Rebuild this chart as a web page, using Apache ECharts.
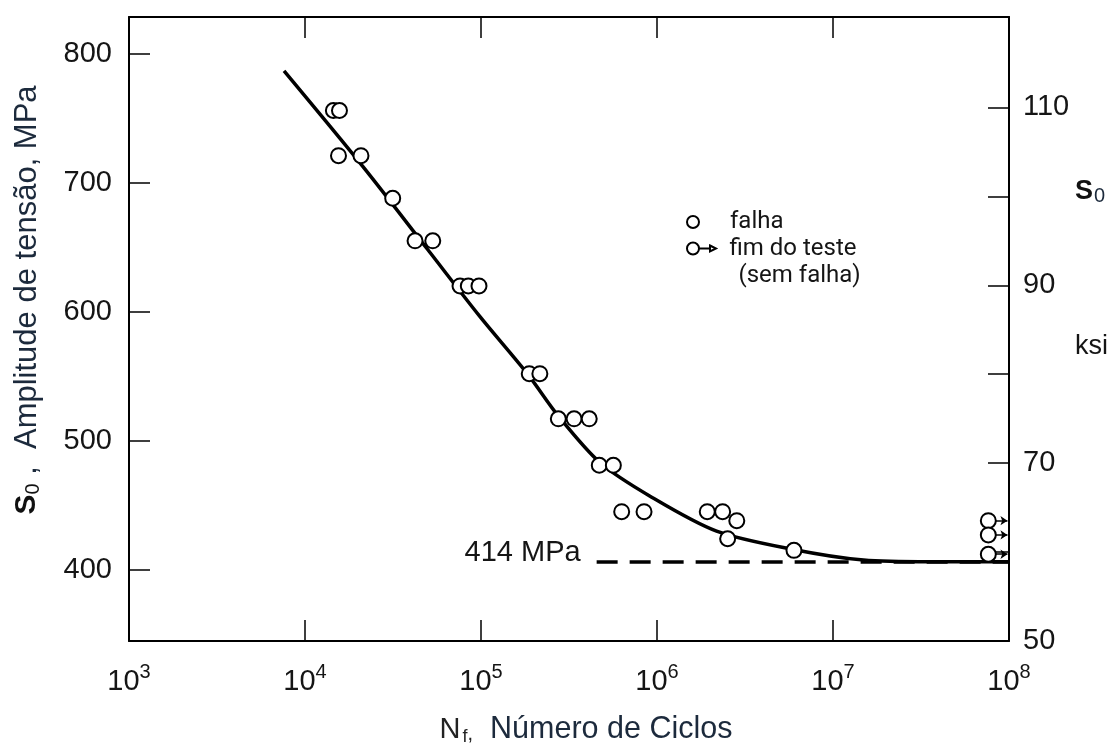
<!DOCTYPE html>
<html><head><meta charset="utf-8">
<script src="https://cdn.jsdelivr.net/npm/echarts@6/dist/echarts.min.js"></script>
<style>html,body{margin:0;padding:0;background:#fff}#c{width:1115px;height:751px}</style>
</head><body><div id="c"></div>
<script>
const MPA_PER_KSI = 6.894757;
const leftTicksMPa = [400, 500, 600, 700, 800];
const rightTicksKsi = [50, 60, 70, 80, 90, 100, 110];
const rightLabelsKsi = [50, 70, 90, 110];
const xMinCycles = 1e3;
const xMaxCycles = 1e8;
const yMinKsi = 50;
const yMaxMPa = 828.5;

const failCycles = [14500, 15700, 15500, 20800, 31500, 42200, 53200, 76000, 84700, 97400, 188000, 216000, 275000, 338000, 412000, 470000, 565000, 630000, 844000, 1930000, 2360000, 2840000, 2520000, 6000000];
const failStress = [756, 756, 721, 721, 688, 655, 655, 620, 620, 620, 552, 552, 517, 517, 517, 481, 481, 445, 445, 445, 445, 438, 424, 415];

const runoutCycles = [76300000, 76300000, 76300000];
const runoutStress = [438, 427, 412];
const runoutArrowEnd = 98000000;

const curveCycles = [7600, 21400, 49400, 98700, 185000, 274000, 474000, 913000, 2180000, 5950000, 14900000, 35600000, 100000000];
const curveStress = [786.7, 712.3, 648.8, 596.2, 551.3, 519.5, 483.1, 457, 429.9, 415.7, 407.5, 406.2, 406.2];

const enduranceCycles = [454000, 100000000];
const enduranceStress = [406, 406];
const enduranceLabel = '414 MPa';

const FONT = '"Liberation Sans", Arial, sans-serif';
const TXT = '#151515';

const chart = echarts.init(document.getElementById('c'), null, {renderer: 'canvas'});

const zip = (a, b) => a.map((v, i) => [v, b[i]]);

const axisLineStyle = {show: true, onZero: false, lineStyle: {color: '#000', width: 2}};
const tickStyle = {color: '#000', width: 1.5};

chart.setOption({
  animation: false,
  backgroundColor: '#fff',
  grid: {left: 129, right: 106, top: 17, bottom: 109, containLabel: false},
  legend: [
    {
      data: [{name: 'falha', icon: 'circle'}],
      orient: 'vertical', left: 686, top: 209, padding: 0,
      itemWidth: 12, itemHeight: 12, selectedMode: false,
      textStyle: {fontFamily: 'Roboto', fontSize: 24, color: TXT, padding: [0, 0, 0, 26], lineHeight: 26}
    },
    {
      data: [{name: 'fim do teste (sem falha)', icon: 'path://M1,7a6,6 0 1,0 12,0a6,6 0 1,0 -12,0ZM13,7L24,7M24,4L30,7L24,10Z'}],
      orient: 'vertical', left: 686, top: 208, padding: 0,
      itemWidth: 30, itemHeight: 12, selectedMode: false,
      formatter: () => '{a|fim do teste}\n{b|(sem falha)}',
      textStyle: {fontFamily: 'Roboto', fontSize: 24, color: TXT, padding: [27, 0, 0, 8], lineHeight: 27,
        rich: {a: {fontFamily: 'Roboto', fontSize: 24, color: TXT, lineHeight: 27}, b: {fontFamily: 'Roboto', fontSize: 24, color: TXT, lineHeight: 27, padding: [0, 0, 0, 9]}}}
    }
  ],
  xAxis: [
    {
      type: 'log', logBase: 10, min: xMinCycles, max: xMaxCycles, interval: 1, position: 'bottom',
      axisLine: axisLineStyle,
      axisTick: {show: true, inside: true, length: 21, lineStyle: tickStyle},
      splitLine: {show: false}, minorTick: {show: false},
      axisLabel: {
        margin: 21,
        formatter: v => '{b|10}{sup|' + Math.round(Math.log10(v)) + '}',
        rich: {
          b: {fontFamily: FONT, fontSize: 29, color: TXT, lineHeight: 40},
          sup: {fontFamily: FONT, fontSize: 20, color: TXT, lineHeight: 22, verticalAlign: 'top'}
        }
      },
      name: '{n|N}{sub|f}{c|,}{t|  Número de Ciclos}',
      nameLocation: 'middle', nameGap: 73,
      nameTextStyle: {
        padding: [0, 0, 0, 34],
        rich: {
          n: {fontFamily: FONT, fontSize: 29, color: '#222'},
          sub: {fontFamily: FONT, fontSize: 18, color: '#222', padding: [14, 0, 0, 2]},
          c: {fontFamily: FONT, fontSize: 20, color: '#222', padding: [8, 0, 0, 0]},
          t: {fontFamily: FONT, fontSize: 30.5, color: '#1c2a3c'}
        }
      }
    },
    {
      type: 'log', logBase: 10, min: xMinCycles, max: xMaxCycles, interval: 1, position: 'top',
      axisLine: axisLineStyle,
      axisTick: {show: true, inside: true, length: 21, lineStyle: tickStyle},
      axisLabel: {show: false}, splitLine: {show: false}
    }
  ],
  yAxis: [
    {
      type: 'value', min: yMinKsi * MPA_PER_KSI, max: yMaxMPa, position: 'left',
      axisLine: axisLineStyle,
      axisTick: {show: true, inside: true, length: 21, lineStyle: tickStyle, customValues: leftTicksMPa},
      axisLabel: {customValues: leftTicksMPa, margin: 17, fontFamily: FONT, fontSize: 29, color: TXT},
      splitLine: {show: false},
      name: '{s|S}{sub|0}{t| ,  Amplitude de tensão, MPa}',
      nameLocation: 'middle', nameRotate: 90, nameGap: 86,
      nameTextStyle: {
        padding: [0, 0, 0, 58],
        rich: {
          s: {fontFamily: FONT, fontSize: 30, fontWeight: 'bold', color: '#111'},
          sub: {fontFamily: FONT, fontSize: 20, color: '#111', padding: [12, 0, 0, 0]},
          t: {fontFamily: FONT, fontSize: 31, color: '#1c2a3c'}
        }
      }
    },
    {
      type: 'value', min: yMinKsi, max: yMaxMPa / MPA_PER_KSI, position: 'right',
      axisLine: axisLineStyle,
      axisTick: {show: true, inside: true, length: 21, lineStyle: tickStyle, customValues: rightTicksKsi},
      axisLabel: {customValues: rightLabelsKsi, margin: 14, fontFamily: FONT, fontSize: 29, color: TXT},
      splitLine: {show: false}
    }
  ],
  graphic: [
    {type: 'text', left: 1075, top: 178, style: {text: '{s|S}{sub|0}', rich: {
      s: {fontFamily: FONT, fontSize: 27, fontWeight: 'bold', fill: '#111'},
      sub: {fontFamily: FONT, fontSize: 20, fill: '#1c2a3c', padding: [10, 0, 0, 1]}
    }}},
    {type: 'text', left: 1075, top: 333, style: {text: 'ksi', font: '27px "Liberation Sans", Arial, sans-serif', fill: TXT}}
  ],
  series: [
    {
      type: 'line', name: 'limite', xAxisIndex: 0, yAxisIndex: 0, z: 1,
      data: zip(enduranceCycles, enduranceStress).map((p, i) => i === 0 ? {
        value: p,
        label: {show: true, position: 'left', distance: 16, offset: [0, -9], formatter: enduranceLabel, fontFamily: FONT, fontSize: 29, color: TXT}
      } : p),
      symbol: 'circle', symbolSize: 0, showSymbol: true,
      lineStyle: {color: '#000', width: 3.5, type: [21, 12]},
      silent: true
    },
    {
      type: 'line', name: 'curva', xAxisIndex: 0, yAxisIndex: 0, z: 2,
      data: zip(curveCycles, curveStress),
      smooth: 0.3, showSymbol: false, symbol: 'none',
      lineStyle: {color: '#000', width: 3.5}, silent: true
    },
    {
      type: 'lines', coordinateSystem: 'cartesian2d', xAxisIndex: 0, yAxisIndex: 0, z: 2,
      data: runoutCycles.map((c, i) => ({coords: [[c, runoutStress[i]], [runoutArrowEnd, runoutStress[i]]]})),
      symbol: ['none', 'arrow'], symbolSize: 7,
      lineStyle: {color: '#000', width: 1.5, opacity: 1}, silent: true
    },
    {
      type: 'scatter', name: 'falha', xAxisIndex: 0, yAxisIndex: 0, z: 3,
      data: zip(failCycles, failStress),
      symbol: 'circle', symbolSize: 15,
      itemStyle: {color: '#fff', borderColor: '#000', borderWidth: 2, opacity: 1}
    },
    {
      type: 'scatter', name: 'fim do teste (sem falha)', xAxisIndex: 0, yAxisIndex: 0, z: 3,
      data: zip(runoutCycles, runoutStress),
      symbol: 'circle', symbolSize: 15,
      itemStyle: {color: '#fff', borderColor: '#000', borderWidth: 2, opacity: 1}
    }
  ]
});
</script>
</body></html>
